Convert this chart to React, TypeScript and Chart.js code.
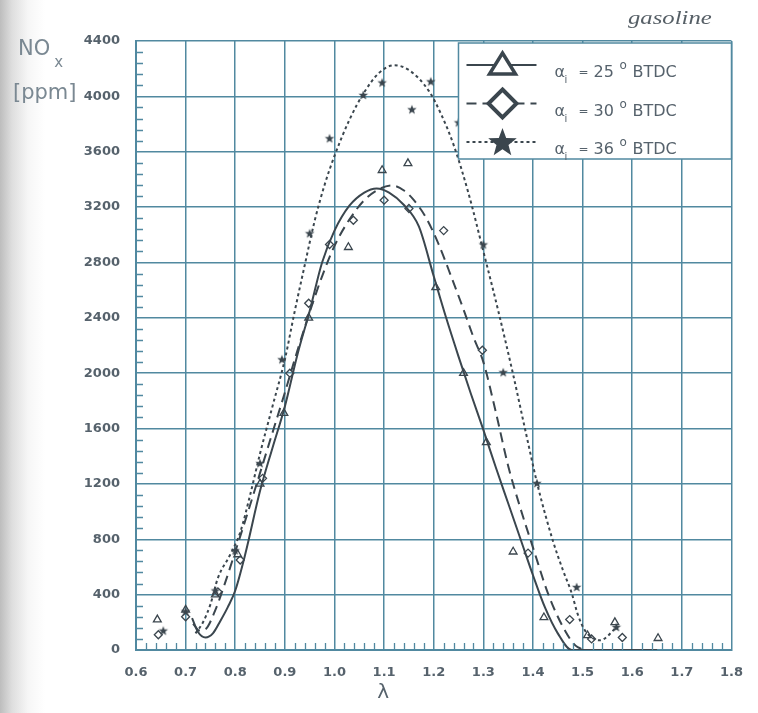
import React, { useEffect, useRef } from "react";
import { Chart, registerables } from "chart.js";

Chart.register(...registerables);

// ---------- data ----------
const xTickValues = [0.6, 0.7, 0.8, 0.9, 1.0, 1.1, 1.2, 1.3, 1.4, 1.5, 1.6, 1.7, 1.8];
const yTickValues = [0, 400, 800, 1200, 1600, 2000, 2400, 2800, 3200, 3600, 4000, 4400];
const seriesLabels = ["25", "30", "36"];

// fitted curves
const curve25X = [0.713, 0.725, 0.74, 0.755, 0.77, 0.785, 0.8, 0.82, 0.85, 0.875, 0.9, 0.925, 0.95, 0.975, 1.0, 1.03, 1.06, 1.085, 1.11, 1.14, 1.17, 1.2, 1.225, 1.25, 1.275, 1.3, 1.325, 1.35, 1.375, 1.4, 1.425, 1.45, 1.478, 1.52, 1.58, 1.65];
const curve25Y = [230, 130, 90, 120, 210, 310, 430, 690, 1150, 1460, 1760, 2130, 2450, 2800, 3030, 3210, 3305, 3335, 3305, 3215, 3060, 2700, 2400, 2120, 1850, 1590, 1320, 1060, 800, 540, 300, 120, 0, 0, 0, 0];

const curve30X = [0.715, 0.728, 0.74, 0.76, 0.78, 0.8, 0.825, 0.85, 0.875, 0.9, 0.925, 0.95, 0.975, 1.0, 1.03, 1.06, 1.09, 1.115, 1.14, 1.16, 1.185, 1.21, 1.235, 1.26, 1.28, 1.3, 1.325, 1.35, 1.375, 1.4, 1.43, 1.46, 1.49, 1.52, 1.58, 1.65];
const curve30Y = [190, 140, 150, 290, 490, 710, 990, 1280, 1570, 1860, 2160, 2440, 2700, 2920, 3110, 3250, 3330, 3357, 3320, 3250, 3120, 2930, 2700, 2460, 2260, 2080, 1720, 1330, 1020, 740, 411, 170, 20, 0, 0, 0];

const curve36X = [0.72, 0.735, 0.75, 0.765, 0.79, 0.81, 0.83, 0.85, 0.875, 0.9, 0.92, 0.94, 0.96, 0.98, 1.0, 1.03, 1.06, 1.09, 1.12, 1.15, 1.19, 1.215, 1.24, 1.27, 1.3, 1.33, 1.36, 1.385, 1.41, 1.44, 1.46, 1.478, 1.49, 1.505, 1.535, 1.57];
const curve36Y = [120, 200, 330, 520, 690, 850, 1120, 1420, 1760, 2100, 2450, 2780, 3100, 3360, 3570, 3830, 4030, 4170, 4225, 4190, 4040, 3870, 3650, 3300, 2880, 2450, 1990, 1580, 1180, 790, 580, 411, 260, 140, 70, 170];

// measured points
const pts25X = [0.643, 0.7, 0.76, 0.805, 0.85, 0.898, 0.948, 1.028, 1.096, 1.148, 1.204, 1.26, 1.306, 1.36, 1.422, 1.51, 1.565, 1.652];
const pts25Y = [220, 290, 400, 690, 1200, 1711, 2400, 2910, 3466, 3516, 2620, 2000, 1500, 710, 235, 105, 200, 85];

const pts30X = [0.645, 0.7, 0.765, 0.81, 0.855, 0.91, 0.948, 0.99, 1.038, 1.1, 1.15, 1.22, 1.298, 1.39, 1.474, 1.518, 1.58];
const pts30Y = [110, 240, 420, 650, 1240, 2000, 2505, 2930, 3105, 3250, 3190, 3030, 2166, 700, 220, 80, 90];

const pts36X = [0.655, 0.7, 0.76, 0.8, 0.85, 0.894, 0.95, 0.99, 1.058, 1.096, 1.156, 1.194, 1.25, 1.3, 1.34, 1.408, 1.488, 1.568];
const pts36Y = [140, 280, 430, 720, 1350, 2100, 3011, 3697, 4010, 4100, 3906, 4108, 3812, 2930, 2007, 1206, 455, 166];

const yMinorStep = 80;
const xMinorStep = 0.02;

// ---------- styles ----------
const INK = "#3b464e";
const GRID = "#5189a0";
const LABEL = "#56626c";
const TITLE = "#7a8892";
const SANS = "'DejaVu Sans', 'Liberation Sans', sans-serif";
const dashes = [[], [10, 6], [3, 3]];

function toXY(xs: number[], ys: number[]) {
  return xs.map((x, i) => ({ x, y: ys[i] }));
}

function starPath(ctx: CanvasRenderingContext2D, cx: number, cy: number, r: number) {
  ctx.beginPath();
  for (let i = 0; i < 10; i++) {
    const rr = i % 2 === 0 ? r : r * 0.42;
    const a = -Math.PI / 2 + (i * Math.PI) / 5;
    const px = cx + rr * Math.cos(a);
    const py = cy + rr * Math.sin(a);
    if (i === 0) ctx.moveTo(px, py);
    else ctx.lineTo(px, py);
  }
  ctx.closePath();
}

function makeStar(r: number, color: string) {
  const c = document.createElement("canvas");
  const s = Math.ceil(r * 2 + 2);
  c.width = s;
  c.height = s;
  const ctx = c.getContext("2d")!;
  ctx.fillStyle = color;
  starPath(ctx, s / 2, s / 2 + r * 0.08, r);
  ctx.fill();
  return c;
}

const minorTicksPlugin = {
  id: "minorTicks",
  afterDatasetsDraw(chart: any) {
    const { ctx, chartArea, scales } = chart;
    const xs = scales.x;
    const ys = scales.y;
    ctx.save();
    ctx.strokeStyle = GRID;
    ctx.lineWidth = 1.3;
    ctx.beginPath();
    const yMax = yTickValues[yTickValues.length - 1];
    for (let k = 1; k * yMinorStep < yMax; k++) {
      const v = k * yMinorStep;
      if (v % 400 === 0) continue;
      const py = Math.round(ys.getPixelForValue(v)) + 0.5;
      ctx.moveTo(chartArea.left, py);
      ctx.lineTo(chartArea.left + 7, py);
    }
    const x0 = xTickValues[0];
    const nX = Math.round((xTickValues[xTickValues.length - 1] - x0) / xMinorStep);
    for (let k = 1; k < nX; k++) {
      if (k % 5 === 0) continue;
      const px = Math.round(xs.getPixelForValue(x0 + k * xMinorStep)) + 0.5;
      ctx.moveTo(px, chartArea.bottom);
      ctx.lineTo(px, chartArea.bottom - 7);
    }
    ctx.stroke();
    ctx.restore();
  },
};

const decorPlugin = {
  id: "decor",
  afterDraw(chart: any) {
    const { ctx, chartArea } = chart;
    ctx.save();
    // legend box
    const lw = 273;
    const lh = 116;
    const lx = chartArea.right - lw;
    const ly = chartArea.top + 2;
    ctx.fillStyle = "#ffffff";
    ctx.fillRect(lx, ly, lw, lh);
    ctx.strokeStyle = GRID;
    ctx.lineWidth = 1.5;
    ctx.strokeRect(lx, ly, lw, lh);

    for (let i = 0; i < 3; i++) {
      const cy = ly + 22 + i * 38.5;
      // line sample
      ctx.strokeStyle = INK;
      ctx.lineWidth = 2;
      ctx.setLineDash(dashes[i]);
      ctx.beginPath();
      ctx.moveTo(lx + 8, cy);
      ctx.lineTo(lx + 78, cy);
      ctx.stroke();
      ctx.setLineDash([]);
      const mx = lx + 44;
      if (i === 0) {
        ctx.fillStyle = "#ffffff";
        ctx.beginPath();
        ctx.moveTo(mx, cy - 12);
        ctx.lineTo(mx + 13, cy + 9);
        ctx.lineTo(mx - 13, cy + 9);
        ctx.closePath();
        ctx.fill();
        ctx.lineWidth = 3.5;
        ctx.stroke();
      } else if (i === 1) {
        ctx.fillStyle = "#ffffff";
        ctx.beginPath();
        ctx.moveTo(mx, cy - 14);
        ctx.lineTo(mx + 14, cy);
        ctx.lineTo(mx, cy + 14);
        ctx.lineTo(mx - 14, cy);
        ctx.closePath();
        ctx.fill();
        ctx.lineWidth = 4;
        ctx.stroke();
      } else {
        ctx.fillStyle = INK;
        starPath(ctx, mx, cy + 1, 15);
        ctx.fill();
      }
      // text: α_i = NN ° BTDC
      ctx.fillStyle = LABEL;
      ctx.textBaseline = "alphabetic";
      ctx.textAlign = "left";
      const base = cy + 12;
      ctx.font = "16px " + SANS;
      ctx.fillText("α", lx + 96, base);
      ctx.font = "10px " + SANS;
      ctx.fillText("i", lx + 106, base + 6);
      ctx.font = "12px " + SANS;
      ctx.fillText("=", lx + 120, base - 1);
      ctx.font = "16px " + SANS;
      ctx.fillText(seriesLabels[i], lx + 135, base);
      ctx.font = "12px " + SANS;
      ctx.fillText("o", lx + 161, base - 8);
      ctx.font = "16px " + SANS;
      ctx.fillText("BTDC", lx + 174, base);
    }

    // "gasoline"
    ctx.fillStyle = "#565f66";
    ctx.font = "italic 19px 'Liberation Serif', 'DejaVu Serif', serif";
    ctx.textAlign = "left";
    ctx.save();
    ctx.translate(628, 24);
    ctx.scale(1.3, 1);
    ctx.fillText("gasoline", 0, 0);
    ctx.restore();

    // y title NOx [ppm]
    ctx.fillStyle = TITLE;
    ctx.textAlign = "left";
    ctx.font = "21px " + SANS;
    ctx.fillText("NO", 18, 55);
    const now = ctx.measureText("NO").width;
    ctx.font = "15px " + SANS;
    ctx.fillText("x", 18 + now + 4, 67);
    ctx.font = "21px " + SANS;
    ctx.fillText("[ppm]", 13, 99);

    // x title λ
    ctx.fillStyle = LABEL;
    ctx.font = "20px " + SANS;
    ctx.textAlign = "center";
    ctx.fillText("λ", chartArea.left + (chartArea.right - chartArea.left) * 0.415, 698);
    ctx.restore();
  },
};

export default function App() {
  const ref = useRef<HTMLCanvasElement | null>(null);

  useEffect(() => {
    if (!ref.current) return;
    const star = makeStar(5, INK);
    const curves = [
      toXY(curve25X, curve25Y),
      toXY(curve30X, curve30Y),
      toXY(curve36X, curve36Y),
    ];
    const pts = [toXY(pts25X, pts25Y), toXY(pts30X, pts30Y), toXY(pts36X, pts36Y)];
    const pointStyles: any[] = ["triangle", "rectRot", star];

    const datasets: any[] = [];
    for (let i = 0; i < 3; i++) {
      datasets.push({
        label: "curve " + seriesLabels[i],
        data: curves[i],
        showLine: true,
        borderColor: INK,
        borderWidth: 2,
        borderDash: dashes[i],
        pointRadius: 0,
        fill: false,
        cubicInterpolationMode: "monotone",
      });
    }
    for (let i = 0; i < 3; i++) {
      datasets.push({
        label: "points " + seriesLabels[i],
        data: pts[i],
        showLine: false,
        pointStyle: pointStyles[i],
        pointRadius: i === 1 ? 4 : 4.5,
        borderColor: INK,
        borderWidth: 1.3,
        backgroundColor: i === 2 ? INK : "rgba(0,0,0,0)",
      });
    }

    const chart = new Chart(ref.current, {
      type: "scatter",
      data: { datasets },
      options: {
        animation: false,
        responsive: true,
        maintainAspectRatio: false,
        layout: { padding: { top: 41, right: 19, left: 0, bottom: 0 } },
        plugins: { legend: { display: false }, tooltip: { enabled: false } },
        scales: {
          x: {
            type: "linear",
            min: xTickValues[0],
            max: xTickValues[xTickValues.length - 1],
            afterBuildTicks: (scale: any) => {
              scale.ticks = xTickValues.map((v) => ({ value: v }));
            },
            afterFit: (scale: any) => {
              scale.height = 63;
            },
            ticks: {
              color: LABEL,
              font: { family: SANS, size: 13, weight: "bold" },
              padding: 15,
              maxRotation: 0,
              autoSkip: false,
              callback: (v: any) => Number(v).toFixed(1),
            },
            grid: { color: GRID, lineWidth: 1.5, drawTicks: false },
            border: { color: GRID, width: 2 },
          },
          y: {
            type: "linear",
            min: yTickValues[0],
            max: yTickValues[yTickValues.length - 1],
            afterBuildTicks: (scale: any) => {
              scale.ticks = yTickValues.map((v) => ({ value: v }));
            },
            afterFit: (scale: any) => {
              scale.width = 136;
            },
            ticks: {
              color: LABEL,
              font: { family: SANS, size: 13, weight: "bold" },
              padding: 16,
              autoSkip: false,
              callback: (v: any) => String(v),
            },
            grid: { color: GRID, lineWidth: 1.5, drawTicks: false },
            border: { color: GRID, width: 2 },
          },
        },
      },
      plugins: [minorTicksPlugin, decorPlugin],
    });
    return () => chart.destroy();
  }, []);

  return (
    <div
      style={{
        position: "fixed",
        left: 0,
        top: 0,
        width: 758,
        height: 713,
        background: "linear-gradient(to right, #bdbdbd 0px, #dedede 12px, #f6f6f6 28px, #ffffff 45px)",
      }}
    >
      <canvas ref={ref} />
    </div>
  );
}
